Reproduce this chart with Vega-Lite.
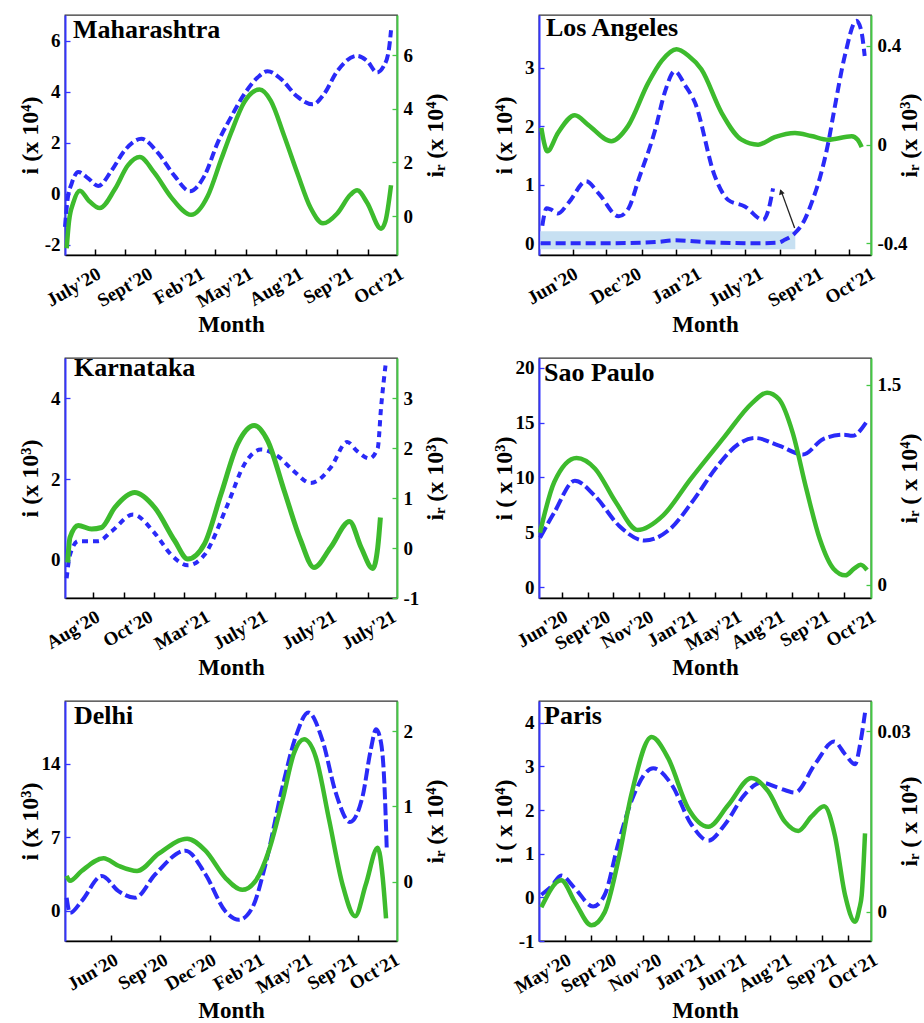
{
  "$schema": "https://vega.github.io/schema/vega-lite/v6.json",
  "background": "white",
  "padding": {"left": 17, "top": 12, "right": 0, "bottom": 0},
  "bounds": "flush",
  "columns": 2,
  "spacing": {"row": 103, "column": 142},
  "datasets": {
    "p1i": [{"t":0,"v":-1.3},{"t":0.8,"v":-0.2},{"t":2,"v":0.4},{"t":4,"v":0.85},{"t":7,"v":0.6},{"t":10,"v":0.3},{"t":14,"v":0.9},{"t":18,"v":1.7},{"t":23,"v":2.15},{"t":28,"v":1.6},{"t":33,"v":0.7},{"t":37.6,"v":0.1},{"t":42,"v":0.7},{"t":46,"v":2.0},{"t":50,"v":3.0},{"t":54,"v":3.9},{"t":58,"v":4.55},{"t":61,"v":4.8},{"t":65,"v":4.5},{"t":70,"v":3.8},{"t":74.6,"v":3.5},{"t":78,"v":3.9},{"t":82,"v":4.8},{"t":88,"v":5.4},{"t":91,"v":5.2},{"t":94,"v":4.75},{"t":96,"v":5.0},{"t":97.5,"v":5.6},{"t":98.2,"v":6.4}],
    "p1r": [{"t":0.5,"v":-1.2},{"t":1.2,"v":-0.2},{"t":2.5,"v":0.5},{"t":4.5,"v":0.95},{"t":7,"v":0.6},{"t":10.5,"v":0.3},{"t":15,"v":1.0},{"t":19,"v":1.9},{"t":22.5,"v":2.2},{"t":27,"v":1.6},{"t":32,"v":0.7},{"t":38,"v":0.05},{"t":43,"v":0.75},{"t":47,"v":2.1},{"t":50,"v":3.1},{"t":54,"v":4.25},{"t":58.6,"v":4.72},{"t":62,"v":4.3},{"t":66,"v":3.0},{"t":70,"v":1.6},{"t":74,"v":0.3},{"t":77.7,"v":-0.27},{"t":82,"v":0.1},{"t":86,"v":0.8},{"t":88,"v":0.96},{"t":91,"v":0.5},{"t":95.2,"v":-0.47},{"t":96.5,"v":-0.2},{"t":98.2,"v":1.15}],
    "p2i": [{"s":"a","t":1.0,"v":0.3},{"s":"a","t":2.3,"v":0.6},{"s":"a","t":3.5,"v":0.58},{"s":"a","t":5.7,"v":0.51},{"s":"a","t":9,"v":0.7},{"s":"a","t":14.2,"v":1.06},{"s":"a","t":18,"v":0.85},{"s":"a","t":24,"v":0.46},{"s":"a","t":27,"v":0.6},{"s":"a","t":30,"v":1.09},{"s":"a","t":35,"v":1.94},{"s":"a","t":38,"v":2.6},{"s":"a","t":40.9,"v":2.94},{"s":"a","t":44,"v":2.7},{"s":"a","t":47,"v":2.4},{"s":"a","t":53,"v":1.14},{"s":"a","t":57,"v":0.74},{"s":"a","t":62,"v":0.63},{"s":"a","t":67.5,"v":0.4},{"s":"a","t":69,"v":0.55},{"s":"a","t":70.5,"v":0.94},
            {"s":"b","t":0.5,"v":0.0},{"s":"b","t":20,"v":0.0},{"s":"b","t":35,"v":0.02},{"s":"b","t":41,"v":0.05},{"s":"b","t":50,"v":0.02},{"s":"b","t":65,"v":0.0},{"s":"b","t":72,"v":0.01},{"s":"b","t":74,"v":0.06},{"s":"b","t":77,"v":0.17},{"s":"b","t":80,"v":0.4},{"s":"b","t":82.1,"v":0.69},{"s":"b","t":85,"v":1.2},{"s":"b","t":87.1,"v":1.71},{"s":"b","t":89,"v":2.3},{"s":"b","t":92.1,"v":3.2},{"s":"b","t":95.6,"v":3.8},{"s":"b","t":97,"v":3.65},{"s":"b","t":98.1,"v":3.2}],
    "p2r": [{"t":0.7,"v":0.068},{"t":1.5,"v":0.01},{"t":2.5,"v":-0.027},{"t":5.7,"v":0.047},{"t":10.8,"v":0.119},{"t":14.8,"v":0.08},{"t":21.8,"v":0.014},{"t":26.8,"v":0.075},{"t":32.9,"v":0.25},{"t":37,"v":0.34},{"t":41.4,"v":0.386},{"t":45,"v":0.36},{"t":48.9,"v":0.305},{"t":55,"v":0.129},{"t":61,"v":0.02},{"t":66,"v":0.0},{"t":71,"v":0.03},{"t":77.1,"v":0.047},{"t":82,"v":0.035},{"t":87.1,"v":0.02},{"t":94.2,"v":0.034},{"t":96,"v":0.02},{"t":97.2,"v":-0.01}],
    "p2box": [{"t0":0.4,"t1":77.2,"v0":-0.1,"v1":0.206}],
    "p2arrow": [{"ta":77,"va":0.26,"tb":72.9,"vb":0.9}],
    "p2head": [{"t":72.9,"v":0.88}],
    "p3i": [{"t":0.5,"v":-0.46},{"t":1.5,"v":0.12},{"t":4,"v":0.46},{"t":10,"v":0.46},{"t":14,"v":0.7},{"t":20.5,"v":1.12},{"t":27,"v":0.66},{"t":32,"v":0.12},{"t":37,"v":-0.14},{"t":42,"v":0.12},{"t":49,"v":1.37},{"t":54,"v":2.36},{"t":59,"v":2.73},{"t":64,"v":2.57},{"t":69,"v":2.19},{"t":74,"v":1.9},{"t":80,"v":2.28},{"t":85,"v":2.92},{"t":88,"v":2.69},{"t":91.7,"v":2.51},{"t":94.2,"v":2.77},{"t":95.2,"v":3.77},{"t":96.7,"v":4.93}],
    "p3r": [{"t":0.8,"v":-0.29},{"t":1.5,"v":0.21},{"t":4,"v":0.45},{"t":8,"v":0.38},{"t":11,"v":0.41},{"t":15,"v":0.81},{"t":21,"v":1.11},{"t":27,"v":0.81},{"t":33,"v":0.15},{"t":37,"v":-0.22},{"t":42,"v":0.08},{"t":47,"v":1.08},{"t":52,"v":2.08},{"t":57,"v":2.45},{"t":61,"v":2.15},{"t":66,"v":1.15},{"t":71,"v":0.15},{"t":75,"v":-0.39},{"t":80,"v":0.01},{"t":85.7,"v":0.53},{"t":89.2,"v":0.01},{"t":92.7,"v":-0.41},{"t":94.2,"v":0.01},{"t":95,"v":0.61}],
    "p4i": [{"t":0.3,"v":4.5},{"t":4.6,"v":6.8},{"t":10.8,"v":9.7},{"t":16.9,"v":8.3},{"t":24.1,"v":5.6},{"t":31.8,"v":4.24},{"t":39.5,"v":5.3},{"t":46.7,"v":8.0},{"t":53.8,"v":11.06},{"t":60,"v":13.03},{"t":65.1,"v":13.6},{"t":72.3,"v":12.9},{"t":79.5,"v":12.1},{"t":85.6,"v":13.5},{"t":91.8,"v":13.9},{"t":94.4,"v":13.8},{"t":98.5,"v":15.0}],
    "p4r": [{"t":0.3,"v":0.39},{"t":4.6,"v":0.77},{"t":11.3,"v":0.95},{"t":16.9,"v":0.87},{"t":23.1,"v":0.62},{"t":29.7,"v":0.41},{"t":37.4,"v":0.52},{"t":45.6,"v":0.79},{"t":55.9,"v":1.11},{"t":64.1,"v":1.36},{"t":68.7,"v":1.44},{"t":72.3,"v":1.39},{"t":76.4,"v":1.14},{"t":80.5,"v":0.72},{"t":84.6,"v":0.34},{"t":88.7,"v":0.12},{"t":92.3,"v":0.07},{"t":94.9,"v":0.12},{"t":96.9,"v":0.15},{"t":98.8,"v":0.11}],
    "p5i": [{"t":0.5,"v":1.22},{"t":1.5,"v":-0.22},{"t":5,"v":0.9},{"t":11.1,"v":3.3},{"t":16.1,"v":1.86},{"t":21.1,"v":1.22},{"t":27.2,"v":3.47},{"t":36.3,"v":5.72},{"t":42.3,"v":3.47},{"t":48.3,"v":-0.06},{"t":52.4,"v":-0.87},{"t":56.4,"v":0.26},{"t":60.4,"v":4.43},{"t":65.5,"v":11.8},{"t":69.5,"v":16.6},{"t":73.3,"v":18.9},{"t":77.5,"v":16.3},{"t":81.6,"v":11.2},{"t":85.8,"v":8.45},{"t":89.6,"v":10.85},{"t":92.1,"v":15.35},{"t":93.7,"v":17.3},{"t":95.2,"v":16.0},{"t":96.2,"v":12.1},{"t":96.9,"v":6.0}],
    "p5r": [{"t":0.5,"v":0.076},{"t":1.5,"v":0.01},{"t":5,"v":0.14},{"t":11.6,"v":0.31},{"t":16.1,"v":0.21},{"t":21.7,"v":0.14},{"t":28.2,"v":0.37},{"t":36.8,"v":0.57},{"t":42.3,"v":0.41},{"t":48.3,"v":0.05},{"t":53.4,"v":-0.11},{"t":57.4,"v":0.01},{"t":61.4,"v":0.41},{"t":65.5,"v":1.08},{"t":69,"v":1.71},{"t":72,"v":1.89},{"t":75.5,"v":1.66},{"t":79.6,"v":0.81},{"t":83.6,"v":-0.04},{"t":87.4,"v":-0.46},{"t":90.6,"v":-0.04},{"t":94.2,"v":0.45},{"t":95.7,"v":0.05},{"t":96.7,"v":-0.49}],
    "p6i": [{"t":0.7,"v":0.06},{"t":3.7,"v":0.25},{"t":6.7,"v":0.5},{"t":10.8,"v":0.21},{"t":16.3,"v":-0.21},{"t":19.8,"v":0.06},{"t":23.8,"v":1.21},{"t":27.8,"v":2.2},{"t":34.4,"v":2.96},{"t":39.9,"v":2.59},{"t":45.9,"v":1.67},{"t":51,"v":1.3},{"t":56,"v":1.67},{"t":62,"v":2.36},{"t":67,"v":2.63},{"t":72.1,"v":2.51},{"t":77.1,"v":2.4},{"t":83.1,"v":3.05},{"t":88.9,"v":3.57},{"t":92.2,"v":3.28},{"t":95.2,"v":3.05},{"t":96.7,"v":3.5},{"t":98.2,"v":4.23}],
    "p6r": [{"t":0.7,"v":0.0007},{"t":6.7,"v":0.0052},{"t":10.8,"v":0.0016},{"t":15.8,"v":-0.0023},{"t":19.8,"v":-0.0001},{"t":23.8,"v":0.0083},{"t":27.8,"v":0.0194},{"t":33.9,"v":0.029},{"t":38.9,"v":0.0255},{"t":44.9,"v":0.0172},{"t":51,"v":0.0141},{"t":57,"v":0.0177},{"t":64,"v":0.0222},{"t":69,"v":0.020},{"t":74.1,"v":0.0149},{"t":78.1,"v":0.0134},{"t":82.1,"v":0.0158},{"t":85.9,"v":0.0175},{"t":89.1,"v":0.0127},{"t":92.2,"v":0.0027},{"t":95.2,"v":-0.0017},{"t":96.5,"v":0.0005},{"t":97.2,"v":0.0027},{"t":98.2,"v":0.013}]
  },
  "concat": [
    {
      "width": 332, "height": 240,
      "title": {"text": "Maharashtra", "dx": 8},
      "layer": [
        {"data": {"name": "p1i"}, "mark": {"type": "line", "color": "#2a2af8", "strokeWidth": 4, "strokeDash": [9, 4], "interpolate": "monotone"},
         "encoding": {
           "x": {"field": "t", "type": "quantitative", "scale": {"domain": [0, 100], "nice": false, "zero": false},
                 "axis": {"orient": "bottom", "title": "Month", "values": [8.8, 24.4, 40, 54.6, 69.7, 84.8, 100], "labelExpr": "[\"July'20\",\"Sept'20\",\"Feb'21\",\"May'21\",\"Aug'21\",\"Sep'21\",\"Oct'21\"][indexof([8.8,24.4,40,54.6,69.7,84.8,100],datum.value)]"}},
           "y": {"field": "v", "type": "quantitative", "scale": {"domain": [-2.4, 7.0], "nice": false, "zero": false},
                 "axis": {"orient": "left", "title": "i (x 10⁴)", "values": [-2, 0, 2, 4, 6]}}
         }},
        {"data": {"name": "p1r"}, "mark": {"type": "line", "color": "#3dbb2d", "strokeWidth": 4.5, "interpolate": "monotone"},
         "encoding": {
           "x": {"field": "t", "type": "quantitative", "axis": {"orient": "bottom", "labels": false, "domain": false, "ticks": true, "tickSize": -6, "title": null, "values": [9.0, 18.1, 27.1, 36.1, 45.2, 54.5, 63.6, 72.6, 81.9, 91.3]}},
           "y": {"field": "v", "type": "quantitative", "scale": {"domain": [-1.45, 7.5], "nice": false, "zero": false},
                 "axis": {"orient": "right", "title": "iᵣ (x 10⁴)", "values": [0, 2, 4, 6]}}
         }}
      ],
      "resolve": {"scale": {"y": "independent"}, "axis": {"x": "independent"}}
    },
    {
      "width": 332, "height": 240,
      "title": {"text": "Los Angeles", "dx": 7},
      "layer": [
        {"data": {"name": "p2box"}, "mark": {"type": "rect", "color": "#c7e0f2"},
         "encoding": {
           "x": {"field": "t0", "type": "quantitative", "scale": {"domain": [0, 100], "nice": false, "zero": false}, "axis": null},
           "x2": {"field": "t1"},
           "y": {"field": "v0", "type": "quantitative", "scale": {"domain": [-0.2, 3.9], "nice": false, "zero": false}, "axis": null},
           "y2": {"field": "v1"}
         }},
        {"data": {"name": "p2i"}, "mark": {"type": "line", "color": "#2a2af8", "strokeWidth": 4, "strokeDash": [10, 5], "interpolate": "monotone"},
         "encoding": {
           "x": {"field": "t", "type": "quantitative", "scale": {"domain": [0, 100], "nice": false, "zero": false},
                 "axis": {"orient": "bottom", "title": "Month", "values": [9.7, 28.8, 46.9, 65.5, 83.6, 99.2], "labelExpr": "[\"Jun'20\",\"Dec'20\",\"Jan'21\",\"July'21\",\"Sept'21\",\"Oct'21\"][indexof([9.7,28.8,46.9,65.5,83.6,99.2],datum.value)]"}},
           "y": {"field": "v", "type": "quantitative", "scale": {"domain": [-0.2, 3.9], "nice": false, "zero": false},
                 "axis": {"orient": "left", "title": "i (x 10⁴)", "values": [0, 1, 2, 3]}},
           "detail": {"field": "s"}
         }},
        {"data": {"name": "p2arrow"}, "mark": {"type": "rule", "color": "#222", "strokeWidth": 1.3},
         "encoding": {
           "x": {"field": "ta", "type": "quantitative", "scale": {"domain": [0, 100], "nice": false, "zero": false}, "axis": null},
           "x2": {"field": "tb"},
           "y": {"field": "va", "type": "quantitative", "scale": {"domain": [-0.2, 3.9], "nice": false, "zero": false}, "axis": null},
           "y2": {"field": "vb"}
         }},
        {"data": {"name": "p2head"}, "mark": {"type": "point", "shape": "triangle-up", "filled": true, "color": "#222", "size": 35, "angle": -20, "opacity": 1},
         "encoding": {
           "x": {"field": "t", "type": "quantitative", "scale": {"domain": [0, 100], "nice": false, "zero": false}, "axis": null},
           "y": {"field": "v", "type": "quantitative", "scale": {"domain": [-0.2, 3.9], "nice": false, "zero": false}, "axis": null}
         }},
        {"data": {"name": "p2r"}, "mark": {"type": "line", "color": "#3dbb2d", "strokeWidth": 4.5, "interpolate": "monotone"},
         "encoding": {
           "x": {"field": "t", "type": "quantitative", "axis": {"orient": "bottom", "labels": false, "domain": false, "ticks": true, "tickSize": -6, "title": null, "values": [10.3, 20.3, 30.9, 41.2, 51.8, 62, 72.6, 83.1, 93.5]}},
           "y": {"field": "v", "type": "quantitative", "scale": {"domain": [-0.447, 0.525], "nice": false, "zero": false},
                 "axis": {"orient": "right", "title": "iᵣ (x 10³)", "values": [-0.4, 0, 0.4]}}
         }}
      ],
      "resolve": {"scale": {"y": "independent"}, "axis": {"x": "independent"}}
    },
    {
      "width": 332, "height": 240,
      "title": {"text": "Karnataka", "dx": 9},
      "layer": [
        {"data": {"name": "p3i"}, "mark": {"type": "line", "color": "#2a2af8", "strokeWidth": 4, "strokeDash": [6, 5], "interpolate": "monotone"},
         "encoding": {
           "x": {"field": "t", "type": "quantitative", "scale": {"domain": [0, 100], "nice": false, "zero": false},
                 "axis": {"orient": "bottom", "title": "Month", "values": [8.5, 24.5, 41.6, 59, 79.7, 97.7], "labelExpr": "[\"Aug'20\",\"Oct'20\",\"Mar'21\",\"July'21\",\"July'21\",\"July'21\"][indexof([8.5,24.5,41.6,59,79.7,97.7],datum.value)]"}},
           "y": {"field": "v", "type": "quantitative", "scale": {"domain": [-0.95, 5.0], "nice": false, "zero": false},
                 "axis": {"orient": "left", "title": "i (x 10³)", "values": [0, 2, 4]}}
         }},
        {"data": {"name": "p3r"}, "mark": {"type": "line", "color": "#3dbb2d", "strokeWidth": 5, "interpolate": "monotone"},
         "encoding": {
           "x": {"field": "t", "type": "quantitative", "axis": {"orient": "bottom", "labels": false, "domain": false, "ticks": true, "tickSize": -6, "title": null, "values": [8.5, 17.7, 26.8, 35.9, 45.1, 54.4, 63.4, 72.4, 81.7, 91.2]}},
           "y": {"field": "v", "type": "quantitative", "scale": {"domain": [-1.0, 3.8], "nice": false, "zero": false},
                 "axis": {"orient": "right", "title": "iᵣ (x 10³)", "values": [-1, 0, 1, 2, 3]}}
         }}
      ],
      "resolve": {"scale": {"y": "independent"}, "axis": {"x": "independent"}}
    },
    {
      "width": 332, "height": 240,
      "title": {"text": "Sao Paulo", "dx": 5},
      "layer": [
        {"data": {"name": "p4i"}, "mark": {"type": "line", "color": "#2a2af8", "strokeWidth": 4, "strokeDash": [12, 4], "interpolate": "monotone"},
         "encoding": {
           "x": {"field": "t", "type": "quantitative", "scale": {"domain": [0, 100], "nice": false, "zero": false},
                 "axis": {"orient": "bottom", "title": "Month", "values": [6.7, 19.5, 32.5, 45.6, 59, 72, 85.6, 99.5], "labelExpr": "[\"Jun'20\",\"Sept'20\",\"Nov'20\",\"Jan'21\",\"May'21\",\"Aug'21\",\"Sep'21\",\"Oct'21\"][indexof([6.7,19.5,32.5,45.6,59,72,85.6,99.5],datum.value)]"}},
           "y": {"field": "v", "type": "quantitative", "scale": {"domain": [-1, 20.9], "nice": false, "zero": false},
                 "axis": {"orient": "left", "title": "i ( x 10³)", "values": [0, 5, 10, 15, 20]}}
         }},
        {"data": {"name": "p4r"}, "mark": {"type": "line", "color": "#3dbb2d", "strokeWidth": 4.5, "interpolate": "monotone"},
         "encoding": {
           "x": {"field": "t", "type": "quantitative", "axis": {"orient": "bottom", "labels": false, "domain": false, "ticks": true, "tickSize": -6, "title": null, "values": [6.9, 14.7, 22.3, 30, 37.6, 45.3, 53, 60.8, 68.4, 76.2, 83.9, 91.8]}},
           "y": {"field": "v", "type": "quantitative", "scale": {"domain": [-0.1, 1.7], "nice": false, "zero": false},
                 "axis": {"orient": "right", "title": "iᵣ ( x 10⁴)", "values": [0, 1.5]}}
         }}
      ],
      "resolve": {"scale": {"y": "independent"}, "axis": {"x": "independent"}}
    },
    {
      "width": 332, "height": 240,
      "title": {"text": "Delhi", "dx": 9},
      "layer": [
        {"data": {"name": "p5i"}, "mark": {"type": "line", "color": "#2a2af8", "strokeWidth": 4, "strokeDash": [12, 4], "interpolate": "monotone"},
         "encoding": {
           "x": {"field": "t", "type": "quantitative", "scale": {"domain": [0, 100], "nice": false, "zero": false},
                 "axis": {"orient": "bottom", "title": "Month", "values": [14, 29, 43.5, 58, 72.5, 86, 98.7], "labelExpr": "[\"Jun'20\",\"Sep'20\",\"Dec'20\",\"Feb'21\",\"May'21\",\"Sep'21\",\"Oct'21\"][indexof([14,29,43.5,58,72.5,86,98.7],datum.value)]"}},
           "y": {"field": "v", "type": "quantitative", "scale": {"domain": [-2.9, 20], "nice": false, "zero": false},
                 "axis": {"orient": "left", "title": "i (x 10³)", "values": [0, 7, 14]}}
         }},
        {"data": {"name": "p5r"}, "mark": {"type": "line", "color": "#3dbb2d", "strokeWidth": 4.5, "interpolate": "monotone"},
         "encoding": {
           "x": {"field": "t", "type": "quantitative", "axis": {"orient": "bottom", "labels": false, "domain": false, "ticks": true, "tickSize": -6, "title": null, "values": [13.8, 28.7, 43.6, 58.4, 73.5, 88.3]}},
           "y": {"field": "v", "type": "quantitative", "scale": {"domain": [-0.79, 2.4], "nice": false, "zero": false},
                 "axis": {"orient": "right", "title": "iᵣ (x 10⁴)", "values": [0, 1, 2]}}
         }}
      ],
      "resolve": {"scale": {"y": "independent"}, "axis": {"x": "independent"}}
    },
    {
      "width": 332, "height": 240,
      "title": {"text": "Paris", "dx": 5},
      "layer": [
        {"data": {"name": "p6i"}, "mark": {"type": "line", "color": "#2a2af8", "strokeWidth": 4, "strokeDash": [12, 5], "interpolate": "monotone"},
         "encoding": {
           "x": {"field": "t", "type": "quantitative", "scale": {"domain": [0, 100], "nice": false, "zero": false},
                 "axis": {"orient": "bottom", "title": "Month", "values": [7.7, 21.3, 34.9, 47.9, 60.5, 74.1, 87.6, 100], "labelExpr": "[\"May'20\",\"Sept'20\",\"Nov'20\",\"Jan'21\",\"Jun'21\",\"Aug'21\",\"Sep'21\",\"Oct'21\"][indexof([7.7,21.3,34.9,47.9,60.5,74.1,87.6,100],datum.value)]"}},
           "y": {"field": "v", "type": "quantitative", "scale": {"domain": [-1, 4.5], "nice": false, "zero": false},
                 "axis": {"orient": "left", "title": "i ( x 10⁴)", "values": [-1, 0, 1, 2, 3, 4]}}
         }},
        {"data": {"name": "p6r"}, "mark": {"type": "line", "color": "#3dbb2d", "strokeWidth": 4.5, "interpolate": "monotone"},
         "encoding": {
           "x": {"field": "t", "type": "quantitative", "axis": {"orient": "bottom", "labels": false, "domain": false, "ticks": true, "tickSize": -6, "title": null, "values": [7.7, 15.8, 23.3, 31.2, 38.9, 46.6, 54.3, 62, 69.7, 77.4, 85.1, 93]}},
           "y": {"field": "v", "type": "quantitative", "scale": {"domain": [-0.0049, 0.035], "nice": false, "zero": false},
                 "axis": {"orient": "right", "title": "iᵣ ( x 10⁴)", "values": [0, 0.03]}}
         }}
      ],
      "resolve": {"scale": {"y": "independent"}, "axis": {"x": "independent"}}
    }
  ],
  "config": {
    "font": "Liberation Serif",
    "view": {"stroke": "#333333", "strokeWidth": 1.3},
    "title": {"anchor": "start", "frame": "group", "offset": -28, "baseline": "alphabetic", "fontSize": 26, "font": "Liberation Serif", "fontWeight": "bold", "color": "black"},
    "axis": {"grid": false, "labelFont": "Liberation Serif", "labelFontWeight": "bold", "labelColor": "black", "titleFont": "Liberation Serif", "titleFontWeight": "bold", "titleColor": "black", "labelOverlap": false, "labelFlush": false, "labelBound": false},
    "axisLeft": {"domainColor": "#3434ff", "domainWidth": 2, "tickColor": "#3434ff", "tickSize": -5, "tickWidth": 1.3, "labelPadding": 10, "labelFontSize": 19, "labelExpr": "'' + datum.value", "titleFontSize": 24, "titleX": -23, "titleY": 120, "titleAngle": -90, "titleBaseline": "bottom", "titleAlign": "center"},
    "axisRight": {"domainColor": "#44c844", "domainWidth": 2, "tickColor": "#44c844", "tickSize": -5, "tickWidth": 1.3, "labelPadding": 11, "labelFontSize": 19, "labelExpr": "'' + datum.value", "titleFontSize": 24, "titleX": 50, "titleY": 120, "titleAngle": -90, "titleBaseline": "bottom", "titleAlign": "center"},
    "axisBottom": {"domainColor": "black", "domainWidth": 1.5, "ticks": false, "tickColor": "black", "tickWidth": 1.5, "labelAngle": -30, "labelAlign": "right", "labelBaseline": "top", "labelPadding": 9, "labelFontSize": 19, "titleFontSize": 23, "titleY": 58, "titleX": 166, "titleBaseline": "top", "titleAlign": "center"}
  }
}
